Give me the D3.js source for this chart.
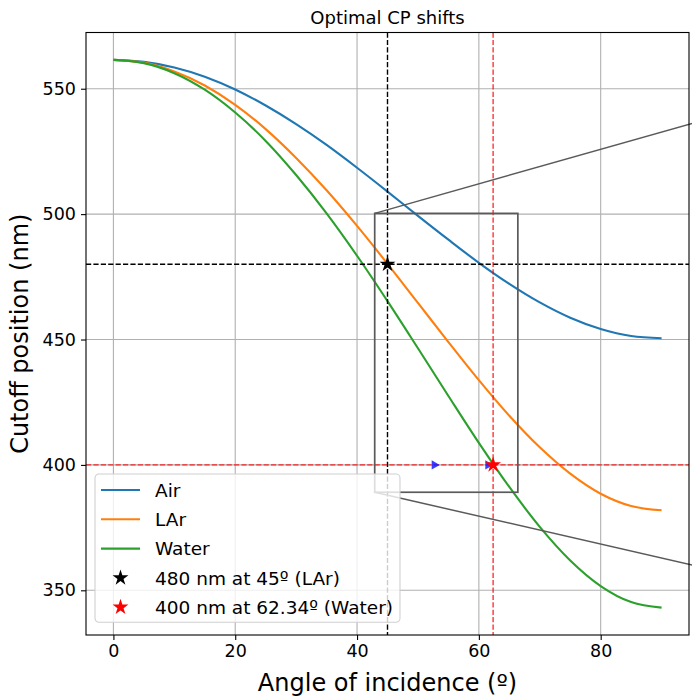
<!DOCTYPE html>
<html>
<head>
<meta charset="utf-8">
<script src="https://cdn.jsdelivr.net/npm/d3@7"></script>
<style>
  body { margin: 0; background: #fff; }
  svg { display: block; }
  text { font-family: "DejaVu Sans", sans-serif; fill: #000; }
</style>
</head>
<body>
<svg id="chart" width="692" height="698"></svg>
<script>
// Incidence angles (degrees) and the filter cutoff wavelength (nm) in each medium
const angles = [0, 5, 10, 15, 20, 25, 30, 35, 40, 45, 50, 55, 60, 65, 70, 75, 80, 85, 90];
const air   = [561.5, 560.7, 558.5, 554.8, 549.7, 543.3, 535.9, 527.6, 518.5, 509.0, 499.3, 489.8, 480.6, 472.2, 464.8, 458.7, 454.2, 451.4, 450.5];
const lar   = [561.5, 560.4, 556.9, 551.3, 543.6, 533.9, 522.4, 509.5, 495.3, 480.2, 464.6, 449.0, 433.8, 419.6, 407.0, 396.5, 388.5, 383.6, 381.9];
const water = [561.5, 560.2, 556.2, 549.6, 540.5, 529.2, 515.6, 500.3, 483.4, 465.3, 446.5, 427.5, 408.8, 391.2, 375.3, 361.9, 351.7, 345.3, 343.1];

const seriesNames  = ["Air", "LAr", "Water"];
const seriesColors = ["#1f77b4", "#ff7f0e", "#2ca02c"];

const xTicks = [0, 20, 40, 60, 80];
const yTicks = [350, 400, 450, 500, 550];

// Design points
const larPoint   = { angle: 45,    cutoff: 480, label: "480 nm at 45º (LAr)",      color: "#000" };
const waterPoint = { angle: 62.34, cutoff: 400, label: "400 nm at 62.34º (Water)", color: "red" };

// Direction markers along the 400 nm line
const arrowAngles = [52.7, 61.5];

// Zoomed region and where its inset lies (off to the right)
const zoomBox = { x0: 42.9, x1: 66.4, y0: 389.1, y1: 500.3 };
const insetTop    = [110, 546.5];
const insetBottom = [110, 351.7];

const W = 692, H = 698;
const plot = { left: 86, right: 689, top: 32.5, bottom: 635 };

const svg = d3.select("#chart");

const xPad = (d3.max(angles) - d3.min(angles)) * 0.05;
const x = d3.scaleLinear()
  .domain([d3.min(angles) - xPad, d3.max(angles) + xPad])
  .range([plot.left, plot.right]);

const allVals = air.concat(lar, water);
const [yLo, yHi] = d3.extent(allVals);
const yPad = (yHi - yLo) * 0.05;
const y = d3.scaleLinear()
  .domain([yLo - yPad, yHi + yPad])
  .range([plot.bottom, plot.top]);

svg.append("defs").append("clipPath").attr("id", "plotClip")
  .append("rect")
  .attr("x", plot.left).attr("y", plot.top)
  .attr("width", plot.right - plot.left).attr("height", plot.bottom - plot.top);

// Grid
const grid = svg.append("g").attr("stroke", "#b0b0b0").attr("stroke-width", 1.1);
grid.selectAll(".gx").data(xTicks).join("line")
  .attr("x1", d => x(d)).attr("x2", d => x(d))
  .attr("y1", plot.top).attr("y2", plot.bottom);
grid.selectAll(".gy").data(yTicks).join("line")
  .attr("x1", plot.left).attr("x2", plot.right)
  .attr("y1", d => y(d)).attr("y2", d => y(d));

// Curves
const series = [air, lar, water];
const line = d3.line()
  .x((d, i) => x(angles[i]))
  .y(d => y(d))
  .curve(d3.curveMonotoneX);

const curves = svg.append("g").attr("clip-path", "url(#plotClip)");
curves.selectAll("path").data(series).join("path")
  .attr("d", d => line(d))
  .attr("fill", "none")
  .attr("stroke", (d, i) => seriesColors[i])
  .attr("stroke-width", 2.1);

// Reference lines through the design points
const refs = svg.append("g").attr("clip-path", "url(#plotClip)")
  .attr("fill", "none").attr("stroke-width", 1.4).attr("stroke-dasharray", "5.2,2.2");
refs.append("line")
  .attr("x1", plot.left).attr("x2", plot.right)
  .attr("y1", y(larPoint.cutoff)).attr("y2", y(larPoint.cutoff))
  .attr("stroke", "#000");
refs.append("line")
  .attr("x1", x(larPoint.angle)).attr("x2", x(larPoint.angle))
  .attr("y1", plot.top).attr("y2", plot.bottom)
  .attr("stroke", "#000");
refs.append("line")
  .attr("x1", plot.left).attr("x2", plot.right)
  .attr("y1", y(waterPoint.cutoff)).attr("y2", y(waterPoint.cutoff))
  .attr("stroke", "red").attr("stroke-opacity", 0.8);
refs.append("line")
  .attr("x1", x(waterPoint.angle)).attr("x2", x(waterPoint.angle))
  .attr("y1", plot.top).attr("y2", plot.bottom)
  .attr("stroke", "red").attr("stroke-opacity", 0.8);

// Zoom indicator and connectors
const zoomG = svg.append("g").attr("fill", "none").attr("stroke", "#5a5a5a");
zoomG.append("rect")
  .attr("x", x(zoomBox.x0)).attr("y", y(zoomBox.y1))
  .attr("width", x(zoomBox.x1) - x(zoomBox.x0))
  .attr("height", y(zoomBox.y0) - y(zoomBox.y1))
  .attr("stroke-width", 1.7);
zoomG.append("line")
  .attr("x1", x(zoomBox.x0)).attr("y1", y(zoomBox.y1))
  .attr("x2", x(insetTop[0])).attr("y2", y(insetTop[1]))
  .attr("stroke-width", 1.5);
zoomG.append("line")
  .attr("x1", x(zoomBox.x0)).attr("y1", y(zoomBox.y0))
  .attr("x2", x(insetBottom[0])).attr("y2", y(insetBottom[1]))
  .attr("stroke-width", 1.5);

// Direction markers
const tri = d3.symbol(d3.symbolTriangle, 38);
svg.append("g").selectAll("path").data(arrowAngles).join("path")
  .attr("d", tri)
  .attr("transform", d => `translate(${x(d)},${y(waterPoint.cutoff)}) rotate(90)`)
  .attr("fill", "#1a1aff").attr("fill-opacity", 0.85);

// Design point stars
const star = d3.symbol(d3.symbolStar, 78);
svg.append("g").selectAll("path").data([larPoint, waterPoint]).join("path")
  .attr("d", star)
  .attr("transform", d => `translate(${x(d.angle)},${y(d.cutoff)})`)
  .attr("fill", d => d.color);

// Axes
const xAxis = svg.append("g")
  .attr("transform", `translate(0,${plot.bottom})`)
  .call(d3.axisBottom(x).tickValues(xTicks).tickSize(5).tickPadding(5).tickFormat(d3.format("d")));
const yAxis = svg.append("g")
  .attr("transform", `translate(${plot.left},0)`)
  .call(d3.axisLeft(y).tickValues(yTicks).tickSize(5).tickPadding(5).tickFormat(d3.format("d")));
[xAxis, yAxis].forEach(a => {
  a.select(".domain").remove();
  a.selectAll(".tick line").attr("stroke", "#000").attr("stroke-width", 1.1);
  a.selectAll(".tick text").attr("font-size", 17.5).attr("fill", "#222")
    .style("font-family", '"DejaVu Sans", sans-serif');
});

// Frame
svg.append("rect")
  .attr("x", plot.left).attr("y", plot.top)
  .attr("width", plot.right - plot.left).attr("height", plot.bottom - plot.top)
  .attr("fill", "none").attr("stroke", "#000").attr("stroke-width", 1.1);

// Titles
svg.append("text")
  .attr("x", (plot.left + plot.right) / 2).attr("y", 24)
  .attr("text-anchor", "middle").attr("font-size", 18).attr("fill", "#222")
  .text("Optimal CP shifts");
svg.append("text")
  .attr("x", (plot.left + plot.right) / 2).attr("y", 691)
  .attr("text-anchor", "middle").attr("font-size", 24).attr("fill", "#222")
  .text("Angle of incidence (º)");
svg.append("text")
  .attr("transform", `translate(28,${(plot.top + plot.bottom) / 2}) rotate(-90)`)
  .attr("text-anchor", "middle").attr("font-size", 24).attr("fill", "#222")
  .text("Cutoff position (nm)");

// Legend
const legendItems = seriesNames.map((n, i) => ({ label: n, kind: "line", color: seriesColors[i] }))
  .concat([larPoint, waterPoint].map(p => ({ label: p.label, kind: "star", color: p.color })));

const lg = { left: 95, top: 474, rowH: 29.3, firstRow: 16, handleX0: 6, handleX1: 45, textX: 60 };
const legend = svg.append("g").attr("transform", `translate(${lg.left},${lg.top})`);
const frame = legend.append("rect")
  .attr("x", 0).attr("y", 0).attr("rx", 4).attr("ry", 4)
  .attr("fill", "#fff").attr("fill-opacity", 0.8)
  .attr("stroke", "#d0d0d0").attr("stroke-width", 1.1);
const rows = legend.selectAll("g.row").data(legendItems).join("g")
  .attr("transform", (d, i) => `translate(0,${lg.firstRow + i * lg.rowH})`);
rows.filter(d => d.kind === "line").append("line")
  .attr("x1", lg.handleX0).attr("x2", lg.handleX1)
  .attr("stroke", d => d.color).attr("stroke-width", 2.1);
rows.filter(d => d.kind === "star").append("path")
  .attr("d", star)
  .attr("transform", `translate(${(lg.handleX0 + lg.handleX1) / 2},0)`)
  .attr("fill", d => d.color);
const labels = rows.append("text")
  .attr("x", lg.textX).attr("dy", "0.36em")
  .attr("font-size", 18.5).attr("fill", "#222")
  .text(d => d.label);
const maxW = d3.max(labels.nodes(), n => n.getComputedTextLength());
frame.attr("width", lg.textX + maxW + 7)
  .attr("height", lg.firstRow * 2 + (legendItems.length - 1) * lg.rowH - 1);
</script>
</body>
</html>
